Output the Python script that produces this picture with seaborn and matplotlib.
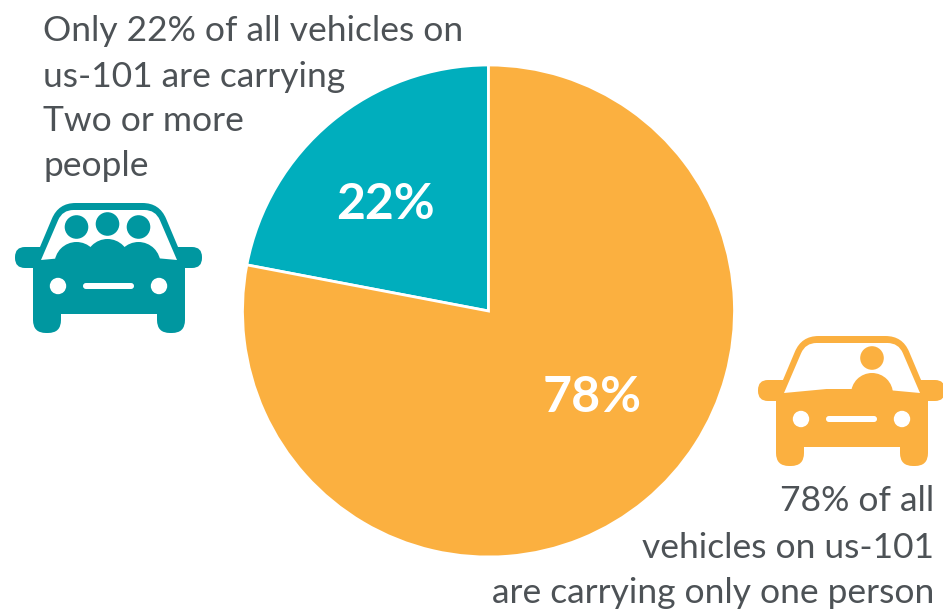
import matplotlib
matplotlib.use("Agg")
import matplotlib.pyplot as plt
import seaborn as sns
from matplotlib.patches import Circle, FancyBboxPatch, PathPatch
from matplotlib.path import Path

sns.set_theme(style="white")
plt.rcParams['font.family'] = ['Lato', 'DejaVu Sans']

categories = ["Two or more people", "One person"]
shares = [22, 78]
pie_colors = ["#00AEBD", "#FBB040"]
teal = "#0097A0"
orange = "#FBB040"
text_color = "#4D5256"
left_lines = ["Only 22% of all vehicles on", "us-101 are carrying", "Two or more", "people"]
right_lines = ["78% of all", "vehicles on us-101", "are carrying only one person"]

W, H = 943, 612
fig = plt.figure(figsize=(W / 100, H / 100), dpi=100, facecolor="white")

cx, cy, R = 488.5, 311, 246
ax = fig.add_axes([(cx - R) / W, 1 - (cy + R) / H, 2 * R / W, 2 * R / H])
ax.pie(shares, colors=pie_colors, startangle=90, counterclock=True, radius=1,
       wedgeprops=dict(edgecolor="white", linewidth=2))
ax.set_xlim(-1, 1); ax.set_ylim(-1, 1)
ax.axis("off")

ov = fig.add_axes([0, 0, 1, 1], facecolor="none")
ov.set_xlim(0, W); ov.set_ylim(H, 0); ov.axis("off")


def rrect(x0, y0, x1, y1, r, color, z=2):
    ov.add_patch(FancyBboxPatch((x0 + r, y0 + r), x1 - x0 - 2 * r, y1 - y0 - 2 * r,
                                boxstyle=f"round,pad={r},rounding_size={r}",
                                fc=color, ec="none", zorder=z))


def trapezoid(bl, tl, tr, br, extra, inset, color, z):
    """Closed shape with two softened top corners; extra = points along the bottom edge."""
    def toward(a, b, d):
        L = ((b[0] - a[0]) ** 2 + (b[1] - a[1]) ** 2) ** 0.5
        return (a[0] + (b[0] - a[0]) * d / L, a[1] + (b[1] - a[1]) * d / L)
    verts = [bl, toward(tl, bl, inset), tl, toward(tl, tr, inset),
             toward(tr, tl, inset), tr, toward(tr, br, inset), br] + extra + [bl]
    codes = [Path.MOVETO, Path.LINETO, Path.CURVE3, Path.CURVE3,
             Path.LINETO, Path.CURVE3, Path.CURVE3, Path.LINETO] + [Path.LINETO] * len(extra) + [Path.CLOSEPOLY]
    ov.add_patch(PathPatch(Path(verts, codes), fc=color, ec="none", zorder=z))


def car(c, top, color, heads, shoulders):
    rrect(c - 93.5, top + 44, c + 93.5, top + 65, 10, color)
    rrect(c - 75.5, top + 50, c + 76.5, top + 111, 3, color)
    rrect(c - 75.5, top + 90, c - 47.5, top + 130, 13, color)
    rrect(c + 48.5, top + 90, c + 76.5, top + 130, 13, color)
    trapezoid((c - 74, top + 57), (c - 50, top), (c + 51, top), (c + 75, top + 57),
              [], 17, color, 2)
    trapezoid((c - 67.5, top + 57), (c - 46, top + 7), (c + 47, top + 7), (c + 68.5, top + 57),
              [(c + 25, top + 53), (c - 25, top + 53)], 11, "white", 3)
    for dx, dy, r in heads:
        ov.add_patch(Circle((c + dx, top + dy), r, fc=color, ec="none", zorder=5))
    for dx, dy, r in shoulders:
        ov.add_patch(Circle((c + dx, top + dy), r, fc=color, ec="none", zorder=5))
    for dx in (-50.5, 50.5):
        ov.add_patch(Circle((c + dx, top + 83), 8.2, fc="white", ec="none", zorder=6))
    rrect(c - 25.5, top + 80, c + 25.5, top + 86, 3, "white", z=6)


car(108.5, 203, teal,
    [(-32, 24, 11.8), (-1, 21, 11.8), (30, 24, 11.8)],
    [(-32, 61, 22), (-1, 58, 22), (30, 61, 22)])
car(851.5, 336, orange, [(20.5, 22, 11.8)], [(20.5, 58, 21)])

FS = 25.5
for line, base in zip(left_lines, [41, 87, 131, 176]):
    ov.text(43, base, line, color=text_color, fontsize=FS, ha="left", va="baseline")
for line, base in zip(right_lines, [511, 558, 603]):
    ov.text(934, base, line, color=text_color, fontsize=FS, ha="right", va="baseline")

ov.text(385, 219, f"{shares[0]}%", color="white", fontsize=36, fontweight="bold", ha="center", va="baseline", zorder=8)
ov.text(592, 412, f"{shares[1]}%", color="white", fontsize=36, fontweight="bold", ha="center", va="baseline", zorder=8)

fig.savefig("out.png", dpi=100)
